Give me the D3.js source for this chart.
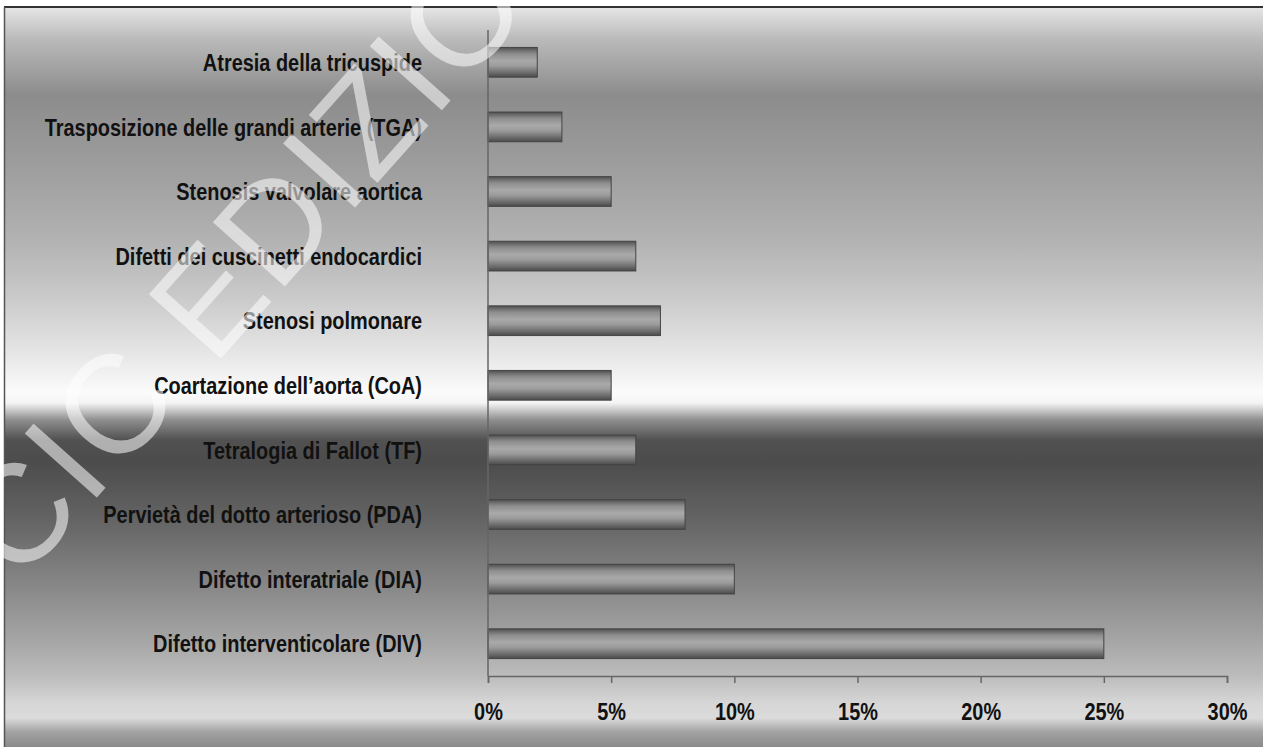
<!DOCTYPE html>
<html>
<head>
<meta charset="utf-8">
<script src="https://cdn.jsdelivr.net/npm/d3@7"></script>
<style>
    body { margin: 0; background: #fff; }
    svg { display: block; }
    .label, .tick text { font-family: "Liberation Sans", Arial, sans-serif; font-weight: bold; fill: #111; }
    .watermark { font-family: "Liberation Sans", Arial, sans-serif; fill: #fff; }
</style>
</head>
<body>
<div id="chart"></div>
<script>
// categories, top to bottom
const categories = [
    "Atresia della tricuspide",
    "Trasposizione delle grandi arterie (TGA)",
    "Stenosis valvolare aortica",
    "Difetti dei cuscinetti endocardici",
    "Stenosi polmonare",
    "Coartazione dell\u2019aorta (CoA)",
    "Tetralogia di Fallot (TF)",
    "Pervietà del dotto arterioso (PDA)",
    "Difetto interatriale (DIA)",
    "Difetto interventicolare (DIV)"
];
const values = [2, 3, 5, 6, 7, 5, 6, 8, 10, 25];
const xTicks = [0, 5, 10, 15, 20, 25, 30];

const W = 1263, H = 747;
const margin = {top: 30, left: 488, right: 36, bottom: 71};
const narrow = 0.83; // the original uses a condensed bold face

const svg = d3.select("#chart").append("svg")
    .attr("width", W)
    .attr("height", H);

const defs = svg.append("defs");

// background band gradient
const bgStops = [
    [7, "#e6e6e6"], [40, "#b9b9b9"], [95, "#8c8c8c"], [150, "#999999"],
    [240, "#b2b2b2"], [300, "#cbcbcb"], [350, "#e4e4e4"], [392, "#fbfbfb"],
    [403, "#f4f4f4"], [420, "#8e8e8e"], [440, "#515151"], [462, "#4c4c4c"],
    [520, "#646464"], [580, "#848484"], [640, "#a5a5a5"], [676, "#bcbcbc"],
    [703, "#d6d6d6"], [718, "#dbdbdb"], [732, "#a2a2a2"], [747, "#8a8a8a"]
];
const bg = defs.append("linearGradient")
    .attr("id", "bg")
    .attr("gradientUnits", "userSpaceOnUse")
    .attr("x1", 0).attr("x2", 0).attr("y1", 7).attr("y2", 747);
bg.selectAll("stop").data(bgStops).join("stop")
    .attr("offset", d => (d[0] - 7) / 740)
    .attr("stop-color", d => d[1]);

// cylinder look for bars
const barStops = [
    [0, "#4e4e4e"], [0.1, "#6e6e6e"], [0.22, "#8e8e8e"], [0.45, "#a9a9a9"],
    [0.62, "#9c9c9c"], [0.85, "#6c6c6c"], [1, "#4a4a4a"]
];
const bar = defs.append("linearGradient")
    .attr("id", "bar")
    .attr("x1", 0).attr("x2", 0).attr("y1", 0).attr("y2", 1);
bar.selectAll("stop").data(barStops).join("stop")
    .attr("offset", d => d[0])
    .attr("stop-color", d => d[1]);

svg.append("rect")
    .attr("x", 5).attr("y", 7)
    .attr("width", W - 5).attr("height", H - 7)
    .attr("fill", "url(#bg)");

// frame
svg.append("line")
    .attr("x1", 4).attr("x2", W).attr("y1", 7).attr("y2", 7)
    .attr("stroke", "#333").attr("stroke-width", 2);
svg.append("line")
    .attr("x1", 4.5).attr("x2", 4.5).attr("y1", 7).attr("y2", H)
    .attr("stroke", "#555").attr("stroke-width", 1.5);

const x = d3.scaleLinear()
    .domain([0, 30])
    .range([margin.left, W - margin.right]);

const y = d3.scaleBand()
    .domain(categories)
    .range([margin.top, H - margin.bottom])
    .paddingInner(0.54)
    .paddingOuter(0.27);

// bars
svg.append("g").selectAll("rect")
    .data(categories)
    .join("rect")
    .attr("x", x(0))
    .attr("y", d => y(d))
    .attr("width", (d, i) => x(values[i]) - x(0))
    .attr("height", y.bandwidth())
    .attr("fill", "url(#bar)")
    .attr("stroke", "#444")
    .attr("stroke-width", 1);

// category labels
svg.append("g").selectAll("text")
    .data(categories)
    .join("text")
    .attr("class", "label")
    .attr("transform", d => `translate(422,${y(d) + y.bandwidth() / 2}) scale(${narrow},1)`)
    .attr("dy", "0.36em")
    .attr("text-anchor", "end")
    .style("font-size", "24px")
    .text(d => d);

// vertical axis line
svg.append("line")
    .attr("x1", x(0)).attr("x2", x(0))
    .attr("y1", margin.top).attr("y2", H - margin.bottom)
    .attr("stroke", "#666").attr("stroke-width", 1.5);

// x axis
const xAxis = svg.append("g")
    .attr("transform", `translate(0,${H - margin.bottom})`)
    .call(d3.axisBottom(x).tickValues(xTicks).tickFormat(d => d + "%").tickSize(7).tickPadding(20));
xAxis.select(".domain").attr("stroke", "#666").attr("stroke-width", 1.5);
xAxis.selectAll(".tick line").attr("stroke", "#666").attr("stroke-width", 1.5);
xAxis.selectAll(".tick text")
    .style("font-size", "24px")
    .attr("transform", `scale(${narrow},1)`);

// watermark
svg.append("text")
    .attr("class", "watermark")
    .attr("transform", "translate(19,585) rotate(-48.3)")
    .style("font-size", "140px")
    .style("letter-spacing", "3px")
    .attr("opacity", 0.55)
    .text("CIC EDIZIONI");
</script>
</body>
</html>
